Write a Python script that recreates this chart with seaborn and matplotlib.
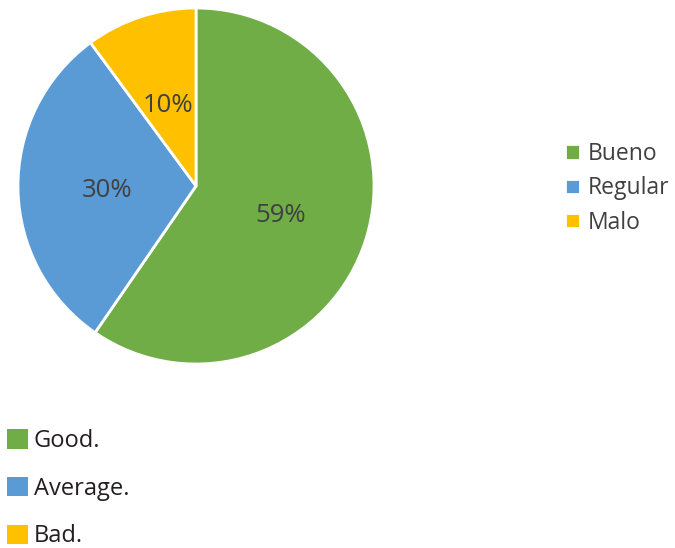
import matplotlib
matplotlib.use("Agg")
import matplotlib.pyplot as plt
from matplotlib.patches import Patch
import seaborn as sns

sns.set_theme(style="white")
plt.rcParams['font.family'] = ['Open Sans', 'DejaVu Sans']

# data
categories = ["Bueno", "Regular", "Malo"]
values = [59, 30, 10]
english_labels = ["Good.", "Average.", "Bad."]
colors = ["#70AD47", "#5B9BD5", "#FFC000"]

total = sum(values)

fig = plt.figure(figsize=(6.75, 5.48), dpi=100)

# pie axes, centre at about (196, 186) px, radius 178 px
ax = fig.add_axes([18 / 675, 184 / 548, 356 / 675, 356 / 548])
wedges, texts, autotexts = ax.pie(
    values, colors=colors, startangle=90, counterclock=False,
    autopct=lambda p: f"{p * total / 100:.0f}%", pctdistance=0.5, radius=1,
    wedgeprops=dict(edgecolor="white", linewidth=2),
    textprops=dict(color="#404040", fontsize=18.5),
)
for t in autotexts:
    x, y = t.get_position()
    t.set_position((x, y - 0.02))
ax.set_xlim(-1, 1)
ax.set_ylim(-1, 1)
ax.set_aspect("equal")
ax.axis("off")

# right legend (spanish)
leg1 = fig.legend(
    wedges, categories, loc="upper left",
    bbox_to_anchor=(556 / 675, 1 - 133 / 548), frameon=False,
    fontsize=16.5, handlelength=0.65, handleheight=0.65,
    handletextpad=0.35, labelspacing=0.45, borderaxespad=0,
)
for t in leg1.get_texts():
    t.set_color("#404040")

# bottom legend (english)
handles = [Patch(facecolor=c, edgecolor="none") for c in colors]
leg2 = fig.legend(
    handles, english_labels, loc="upper left",
    bbox_to_anchor=(0 / 675, 1 - 422 / 548), frameon=False,
    fontsize=17, handlelength=0.88, handleheight=0.88,
    handletextpad=0.25, labelspacing=1.0, borderaxespad=0,
    borderpad=0.3,
)
for t in leg2.get_texts():
    t.set_color("#231F20")

fig.savefig("out.png", dpi=100)
